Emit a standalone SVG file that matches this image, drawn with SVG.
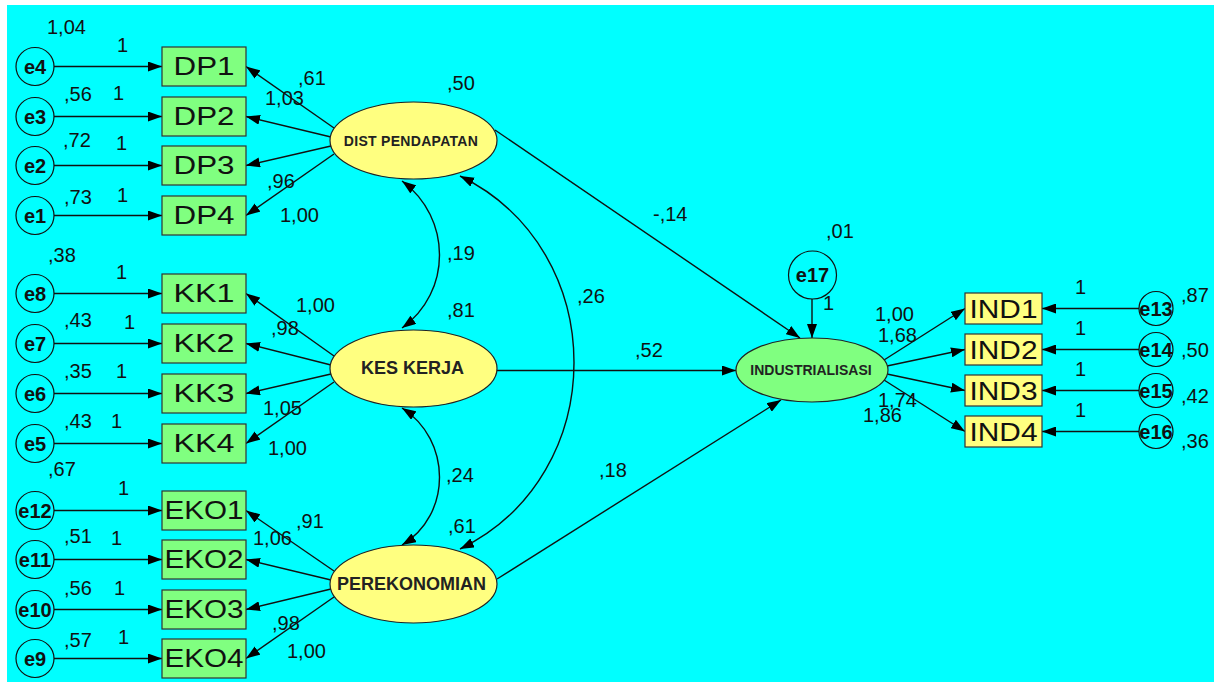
<svg xmlns="http://www.w3.org/2000/svg" width="1214" height="682" viewBox="0 0 1214 682">
<style>
.bg{fill:#00FFFF}
.box{fill:#80FF80;stroke:#333;stroke-width:1.2}
.ind{fill:#FFFF80;stroke:#333;stroke-width:1.2}
.lat{fill:#FFFF80;stroke:#222;stroke-width:1.2}
.endo{fill:#80FF80;stroke:#222;stroke-width:1.2}
.err{fill:none;stroke:#111;stroke-width:1.2}
.bl{font-family:"Liberation Sans",Arial,sans-serif;font-size:25px;fill:#111;text-anchor:middle}
.el{font-family:"Liberation Sans",Arial,sans-serif;font-size:20px;font-weight:bold;fill:#111;text-anchor:middle}
.ll{font-family:"Liberation Sans",Arial,sans-serif;font-weight:bold;fill:#222;text-anchor:middle}
.n{font-family:"Liberation Sans",Arial,sans-serif;font-size:20px;fill:#111}
.c{fill:none;stroke:#111;stroke-width:1.4}
</style>
<defs>
<marker id="ah" viewBox="0 0 14 10" refX="14" refY="5" markerWidth="14" markerHeight="10" markerUnits="userSpaceOnUse" orient="auto-start-reverse"><path d="M0,0L14,5L0,10z" fill="#000"/></marker>
</defs>
<rect x="0" y="0" width="1214" height="682" fill="#fff"/>
<rect class="bg" x="7" y="5" width="1207" height="677"/>

<g id="connectors" class="c" marker-end="url(#ah)">
<path d="M54,66.5H162"/><path d="M54,116.5H162"/><path d="M54,165.5H162"/><path d="M54,215.5H162"/>
<path d="M54,293.5H162"/><path d="M54,343.5H162"/><path d="M54,393.5H162"/><path d="M54,443.5H162"/>
<path d="M54,510.5H162"/><path d="M54,559.5H162"/><path d="M54,609.5H162"/><path d="M54,658.5H162"/>
<path d="M334,128L246,66.5"/><path d="M331,137L246,116.5"/><path d="M331,146L246,165.5"/><path d="M334,154L246,215.5"/>
<path d="M334,356L246,293.5"/><path d="M331,365L246,343.5"/><path d="M331,374L246,393.5"/><path d="M334,382L246,443.5"/>
<path d="M334,571L246,510.5"/><path d="M331,580L246,559.5"/><path d="M331,589L246,609.5"/><path d="M334,597L246,658.5"/>
<path d="M495,130L800,338"/><path d="M812,299V338"/><path d="M497,370.5H736"/><path d="M497,579L781,400"/>
<path d="M884,360L965,308.5"/><path d="M887,366L965,349.5"/><path d="M887,374L965,390.5"/><path d="M884,380L965,431.5"/>
<path d="M1139,308.5H1042"/><path d="M1139,349.5H1042"/><path d="M1139,390.5H1042"/><path d="M1139,431.5H1042"/>
<path d="M402,181C452,218 452,292 402,328" marker-start="url(#ah)"/>
<path d="M402,408C452,440 452,515 402,545" marker-start="url(#ah)"/>
<path d="M460,176C612,250 612,475 460,549" marker-start="url(#ah)"/>
</g>

<g id="e4"><circle class="err" cx="35" cy="66.5" r="19"/><text class="el" x="35" y="73.5">e4</text></g>
<g id="e3"><circle class="err" cx="35" cy="116.5" r="19"/><text class="el" x="35" y="123.5">e3</text></g>
<g id="e2"><circle class="err" cx="35" cy="165.5" r="19"/><text class="el" x="35" y="172.5">e2</text></g>
<g id="e1"><circle class="err" cx="35" cy="215.5" r="19"/><text class="el" x="35" y="222.5">e1</text></g>
<g id="e8"><circle class="err" cx="35" cy="293.5" r="19"/><text class="el" x="35" y="300.5">e8</text></g>
<g id="e7"><circle class="err" cx="35" cy="343.5" r="19"/><text class="el" x="35" y="350.5">e7</text></g>
<g id="e6"><circle class="err" cx="35" cy="393.5" r="19"/><text class="el" x="35" y="400.5">e6</text></g>
<g id="e5"><circle class="err" cx="35" cy="443.5" r="19"/><text class="el" x="35" y="450.5">e5</text></g>
<g id="e12"><circle class="err" cx="35" cy="510.5" r="19"/><text class="el" x="35" y="517.5">e12</text></g>
<g id="e11"><circle class="err" cx="35" cy="559.5" r="19"/><text class="el" x="35" y="566.5">e11</text></g>
<g id="e10"><circle class="err" cx="35" cy="609.5" r="19"/><text class="el" x="35" y="616.5">e10</text></g>
<g id="e9"><circle class="err" cx="35" cy="658.5" r="19"/><text class="el" x="35" y="665.5">e9</text></g>

<g id="DP1"><rect class="box" x="162" y="47" width="84" height="39"/><text class="bl" x="204" y="75" textLength="61" lengthAdjust="spacingAndGlyphs">DP1</text></g>
<g id="DP2"><rect class="box" x="162" y="97" width="84" height="39"/><text class="bl" x="204" y="125" textLength="61" lengthAdjust="spacingAndGlyphs">DP2</text></g>
<g id="DP3"><rect class="box" x="162" y="146" width="84" height="39"/><text class="bl" x="204" y="174" textLength="61" lengthAdjust="spacingAndGlyphs">DP3</text></g>
<g id="DP4"><rect class="box" x="162" y="196" width="84" height="39"/><text class="bl" x="204" y="224" textLength="61" lengthAdjust="spacingAndGlyphs">DP4</text></g>
<g id="KK1"><rect class="box" x="162" y="274" width="84" height="39"/><text class="bl" x="204" y="302" textLength="61" lengthAdjust="spacingAndGlyphs">KK1</text></g>
<g id="KK2"><rect class="box" x="162" y="324" width="84" height="39"/><text class="bl" x="204" y="352" textLength="61" lengthAdjust="spacingAndGlyphs">KK2</text></g>
<g id="KK3"><rect class="box" x="162" y="374" width="84" height="39"/><text class="bl" x="204" y="402" textLength="61" lengthAdjust="spacingAndGlyphs">KK3</text></g>
<g id="KK4"><rect class="box" x="162" y="424" width="84" height="39"/><text class="bl" x="204" y="452" textLength="61" lengthAdjust="spacingAndGlyphs">KK4</text></g>
<g id="EKO1"><rect class="box" x="162" y="491" width="84" height="39"/><text class="bl" x="204" y="519" textLength="79" lengthAdjust="spacingAndGlyphs">EKO1</text></g>
<g id="EKO2"><rect class="box" x="162" y="540" width="84" height="39"/><text class="bl" x="204" y="568" textLength="79" lengthAdjust="spacingAndGlyphs">EKO2</text></g>
<g id="EKO3"><rect class="box" x="162" y="590" width="84" height="39"/><text class="bl" x="204" y="618" textLength="79" lengthAdjust="spacingAndGlyphs">EKO3</text></g>
<g id="EKO4"><rect class="box" x="162" y="639" width="84" height="39"/><text class="bl" x="204" y="667" textLength="79" lengthAdjust="spacingAndGlyphs">EKO4</text></g>

<g id="DIST_PENDAPATAN"><ellipse class="lat" cx="413.5" cy="140.5" rx="83.5" ry="38.5"/><text class="ll" x="411" y="146" font-size="14" letter-spacing="0.3">DIST PENDAPATAN</text></g>
<g id="KES_KERJA"><ellipse class="lat" cx="413.5" cy="368.5" rx="83.5" ry="38.5"/><text class="ll" x="412.5" y="374" font-size="18">KES KERJA</text></g>
<g id="PEREKONOMIAN"><ellipse class="lat" cx="413.5" cy="584" rx="83.5" ry="39"/><text class="ll" x="411.5" y="590" font-size="18">PEREKONOMIAN</text></g>
<g id="INDUSTRIALISASI"><ellipse class="endo" cx="812" cy="370" rx="76" ry="32"/><text class="ll" x="811" y="375" font-size="14">INDUSTRIALISASI</text></g>
<g id="e17"><circle class="err" cx="812.5" cy="275" r="24"/><text class="el" x="812.5" y="282">e17</text></g>

<g id="IND1"><rect class="ind" x="965" y="293" width="77" height="31"/><text class="bl" x="1003.5" y="318" font-size="26" textLength="68" lengthAdjust="spacingAndGlyphs">IND1</text></g>
<g id="IND2"><rect class="ind" x="965" y="334" width="77" height="31"/><text class="bl" x="1003.5" y="359" font-size="26" textLength="68" lengthAdjust="spacingAndGlyphs">IND2</text></g>
<g id="IND3"><rect class="ind" x="965" y="375" width="77" height="31"/><text class="bl" x="1003.5" y="400" font-size="26" textLength="68" lengthAdjust="spacingAndGlyphs">IND3</text></g>
<g id="IND4"><rect class="ind" x="965" y="416" width="77" height="31"/><text class="bl" x="1003.5" y="441" font-size="26" textLength="68" lengthAdjust="spacingAndGlyphs">IND4</text></g>
<g id="e13"><circle class="err" cx="1156" cy="308.5" r="17"/><text class="el" x="1156" y="315.5">e13</text></g>
<g id="e14"><circle class="err" cx="1156" cy="349.5" r="17"/><text class="el" x="1156" y="356.5">e14</text></g>
<g id="e15"><circle class="err" cx="1156" cy="390.5" r="17"/><text class="el" x="1156" y="397.5">e15</text></g>
<g id="e16"><circle class="err" cx="1156" cy="431.5" r="17"/><text class="el" x="1156" y="438.5">e16</text></g>

<g id="estimates" class="n">
<text x="47" y="34">1,04</text><text x="117" y="52">1</text>
<text x="64" y="101">,56</text><text x="113" y="100">1</text>
<text x="63" y="147">,72</text><text x="116" y="150">1</text>
<text x="64" y="204">,73</text><text x="117" y="202">1</text>
<text x="298" y="85">,61</text><text x="265" y="105">1,03</text><text x="267" y="188">,96</text><text x="280" y="222">1,00</text>
<text x="48" y="262">,38</text><text x="116" y="279">1</text>
<text x="64" y="327">,43</text><text x="124" y="329">1</text>
<text x="64" y="378">,35</text><text x="116" y="378">1</text>
<text x="64" y="428">,43</text><text x="111" y="428">1</text>
<text x="296" y="312">1,00</text><text x="271" y="335">,98</text><text x="263" y="415">1,05</text><text x="268" y="455">1,00</text>
<text x="48" y="476">,67</text><text x="118" y="495">1</text>
<text x="64" y="543">,51</text><text x="111" y="545">1</text>
<text x="64" y="595">,56</text><text x="114" y="595">1</text>
<text x="64" y="647">,57</text><text x="118" y="644">1</text>
<text x="296" y="528">,91</text><text x="253" y="545">1,06</text><text x="272" y="630">,98</text><text x="287" y="658">1,00</text>
<text x="447" y="90">,50</text><text x="447" y="260">,19</text><text x="447" y="317">,81</text>
<text x="577" y="303">,26</text><text x="446" y="482">,24</text><text x="448" y="533">,61</text>
<text x="599" y="477">,18</text><text x="635" y="357">,52</text><text x="653" y="221">-,14</text>
<text x="826" y="238">,01</text><text x="823" y="310">1</text>
<text x="875" y="321">1,00</text><text x="878" y="342">1,68</text><text x="878" y="407">1,74</text><text x="863" y="422">1,86</text>
<text x="1075" y="294">1</text><text x="1181" y="302">,87</text>
<text x="1075" y="335">1</text><text x="1181" y="357">,50</text>
<text x="1075" y="376">1</text><text x="1181" y="403">,42</text>
<text x="1075" y="417">1</text><text x="1181" y="448">,36</text>
</g>
</svg>
